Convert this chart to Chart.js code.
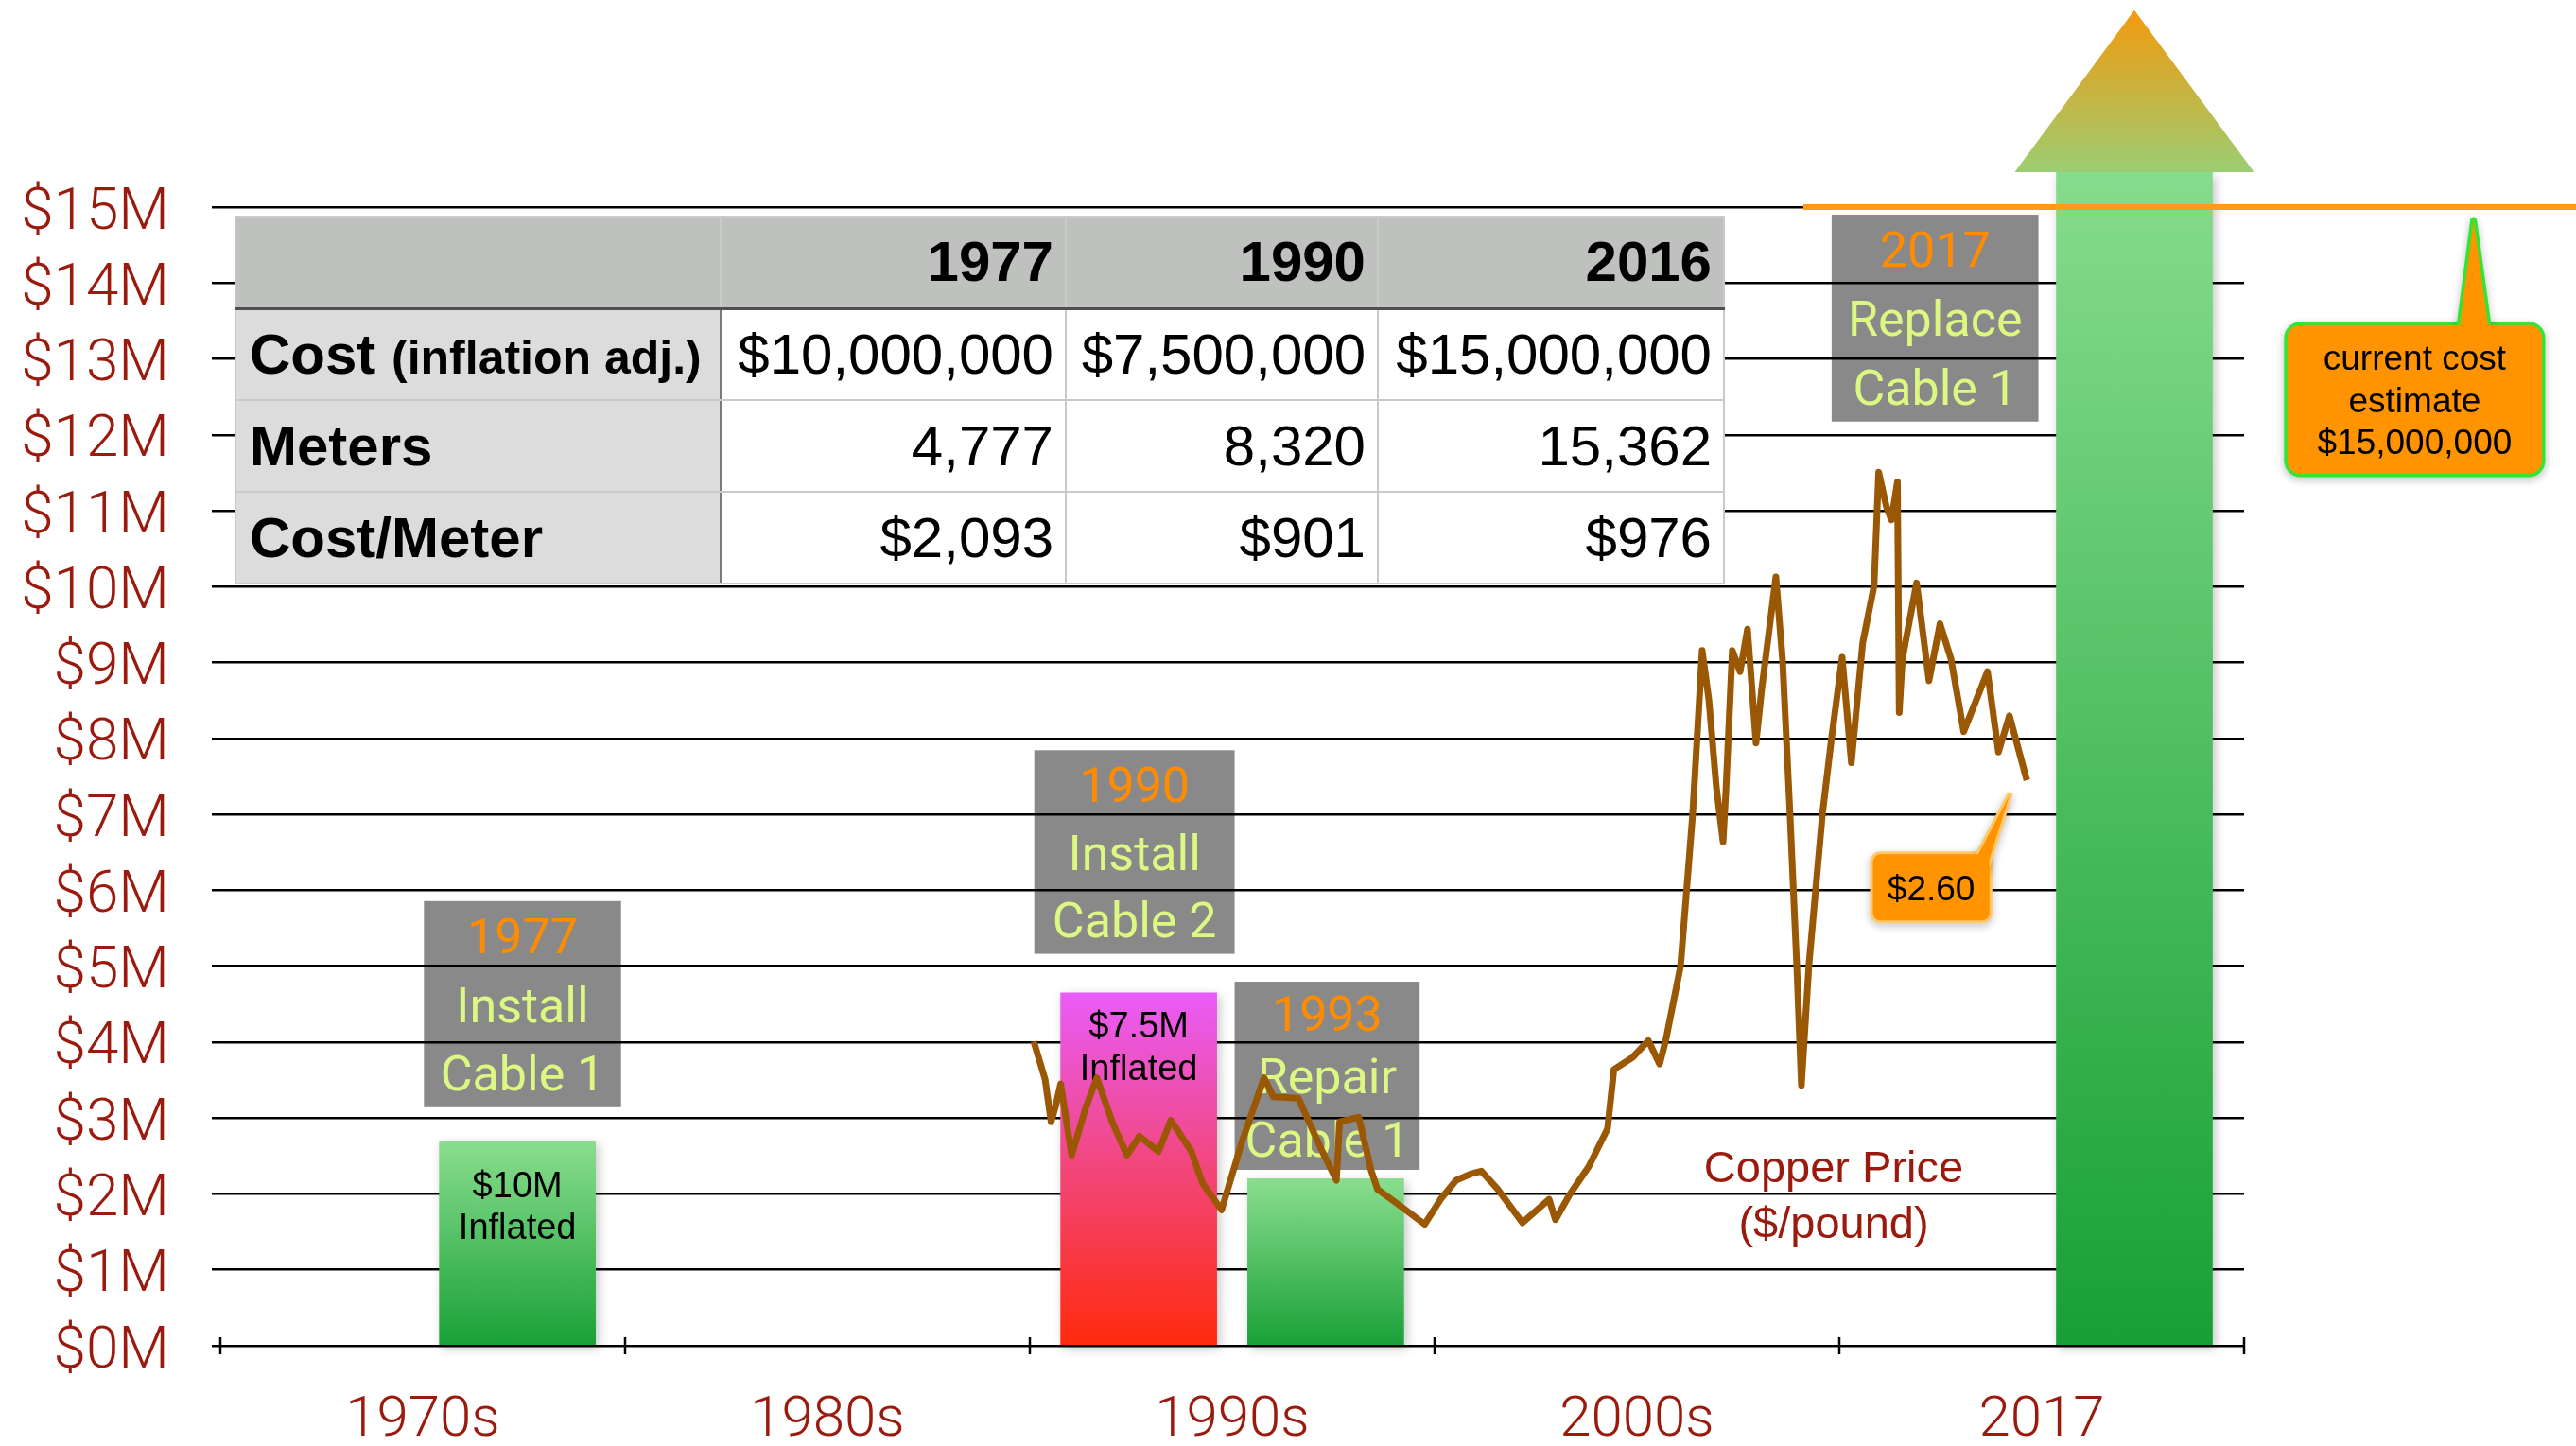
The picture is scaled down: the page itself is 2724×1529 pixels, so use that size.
<!DOCTYPE html>
<html>
<head>
<meta charset="utf-8">
<title>Cable cost vs copper price</title>
<script src="https://cdn.jsdelivr.net/npm/chart.js@4.4.1/dist/chart.umd.min.js"></script>
<style>
  html, body { margin: 0; padding: 0; background: #fff; }
  #wrap { position: relative; width: 2724px; height: 1529px; overflow: hidden; }
  #plotCanvas { position: absolute; left: 0; top: 0; }
  #costTable { position: absolute; left: 248px; top: 228px; width: 1574px; height: 388px;
    border-collapse: collapse; table-layout: fixed; font-family: 'Liberation Sans', Arial, sans-serif;
    font-size: 60px; color: #000; }
  #costTable tr { height: 97px; }
  #costTable td, #costTable th { padding: 0 12px 0 0; text-align: right; border: 2px solid #cacaca;
    background: #fff; font-weight: normal; line-height: 1; white-space: nowrap; vertical-align: middle; }
  #costTable tr.head th { background: #bfc1bf; font-weight: bold; border-bottom: 3px solid #4f4f4f; }
  #costTable td.rowname { background: #dcdcdc; text-align: left; padding: 0 0 0 14px; font-weight: bold;
    border-right: 2px solid #7b7b7b; }
  #costTable .small { font-size: 50px; }
</style>
</head>
<body>
<div id="wrap">
  <canvas id="plotCanvas" width="2724" height="1529"></canvas>
  <table id="costTable"></table>
</div>
<script>
// decade slots along the bottom
const decadeLabels = ['1970s', '1980s', '1990s', '2000s', '2017'];

// project bars: position in slot units (0 = left edge of 1970s) and height in $M
const barSlot = [0.734, 2.269, 2.731, 4.729];
const barCost = [2.7, 4.65, 2.2, 15.46];
const barNotes = [['$10M', 'Inflated'], ['$7.5M', 'Inflated'], [], []];

// copper price trace, plotted on the $M scale
const copperYear = [1987.95, 1988.27, 1988.44, 1988.58, 1988.71, 1989.02, 1989.42, 1989.73, 1990.18, 1990.58,
  1990.93, 1991.47, 1991.82, 1992.40, 1992.71, 1993.25, 1993.82, 1994.45, 1994.71, 1995.42,
  1996.05, 1996.49, 1996.58, 1997.12, 1997.47, 1997.65, 1998.27, 1998.98, 1999.43, 1999.87,
  2000.32, 2000.58, 2001.03, 2001.74, 2002.49, 2002.67, 2003.07, 2003.61, 2004.14, 2004.32,
  2004.85, 2005.29, 2005.61, 2005.79, 2006.20, 2006.54, 2006.81, 2007.00, 2007.21, 2007.40,
  2007.48, 2007.66, 2007.88, 2008.09, 2008.33, 2008.49, 2008.89, 2009.08, 2009.29, 2009.48,
  2009.61, 2009.82, 2010.20, 2010.46, 2010.76, 2011.02, 2011.34, 2011.66, 2011.79, 2012.01,
  2012.15, 2012.32, 2012.37, 2012.46, 2012.86, 2013.21, 2013.52, 2013.83, 2014.19, 2014.86,
  2015.17, 2015.48, 2015.97];
const copperLevel = [4.01, 3.51, 2.95, 3.18, 3.45, 2.51, 3.14, 3.53, 2.93, 2.51,
  2.76, 2.56, 2.97, 2.56, 2.14, 1.79, 2.68, 3.53, 3.28, 3.26,
  2.60, 2.18, 2.95, 3.01, 2.31, 2.06, 1.85, 1.60, 1.93, 2.18,
  2.27, 2.30, 2.07, 1.62, 1.93, 1.66, 1.99, 2.36, 2.86, 3.64,
  3.80, 4.02, 3.71, 4.04, 5.00, 6.99, 9.16, 8.51, 7.36, 6.64,
  7.31, 9.16, 8.88, 9.44, 7.94, 8.65, 10.13, 9.02, 6.99, 5.00,
  3.43, 5.00, 6.99, 8.00, 9.07, 7.68, 9.26, 10.01, 11.51, 11.05,
  10.88, 11.38, 8.34, 9.05, 10.05, 8.76, 9.51, 9.05, 8.09, 8.88,
  7.82, 8.30, 7.45];

// cost table
const tableYears = [1977, 1990, 2016];
const tableCost = [10000000, 7500000, 15000000];
const tableMeters = [4777, 8320, 15362];
const tableCostPerMeter = [2093, 901, 976];

const eventText = [['1977', 'Install', 'Cable 1'], ['1990', 'Install', 'Cable 2'],
  ['1993', 'Repair', 'Cable 1'], ['2017', 'Replace', 'Cable 1']];

// ---- layout of the annotations (slot units / $M) ----
const eventBoxes = [
  { x0: 0.503, x1: 0.990, top: 5.858, bottom: 3.142 },
  { x0: 2.011, x1: 2.506, top: 7.845, bottom: 5.163 },
  { x0: 2.506, x1: 2.963, top: 4.796, bottom: 2.317 },
  { x0: 3.981, x1: 4.492, top: 14.90, bottom: 12.175 }
];
const barNoteY = [[2.13, 1.58], [4.236, 3.675]];
const barColors = [
  ['#8ade8e', '#19a038'],
  ['#e95cf8', '#f2467a', '#ff2a0c'],
  ['#8ade8e', '#19a038'],
  ['#86dc8c', '#17a036']
];
const callouts = [
  { lines: ['current cost', 'estimate', '$15,000,000'], x0: 5.107, x1: 5.736, top: 13.447, bottom: 11.486,
    tail: [[5.532, 13.40], [5.567, 14.826], [5.604, 13.40]], fill: '#ff9400', edge: '#33e433',
    edgeWidth: 3.5, radius: 14, gap: 44.6 },
  { lines: ['$2.60'], x0: 4.083, x1: 4.371, top: 6.474, bottom: 5.602,
    tail: [[4.340, 6.44], [4.4206, 7.254], [4.365, 6.307]], fill: '#ff9400', edge: '#ffc766',
    edgeWidth: 3, radius: 8, gap: 0 }
];
const axisRed = '#9b1a0e';
const grouped = n => String(n).replace(/\B(?=(\d{3})+(?!\d))/g, ',');

function buildTable() {
  const rows = [
    ['Cost <span class="small">(inflation adj.)</span>', tableCost.map(v => '$' + grouped(v))],
    ['Meters', tableMeters.map(grouped)],
    ['Cost/Meter', tableCostPerMeter.map(v => '$' + grouped(v))]
  ];
  let html = '<colgroup><col style="width:513px"><col style="width:365px"><col style="width:330px"><col style="width:366px"></colgroup>';
  html += '<tr class="head"><th></th>' + tableYears.map(y => `<th>${y}</th>`).join('') + '</tr>';
  rows.forEach(r => {
    html += `<tr><td class="rowname">${r[0]}</td>` + r[1].map(v => `<td>${v}</td>`).join('') + '</tr>';
  });
  document.getElementById('costTable').innerHTML = html;
}

// text centred on its cap height
function centredText(ctx, text, x, cy, size) {
  ctx.textBaseline = 'alphabetic';
  ctx.fillText(text, x, cy + size * 0.36);
}

function barFill(c) {
  const stops = barColors[c.dataIndex] || barColors[0];
  const y = c.chart.scales.y;
  if (c.type !== 'data' || !c.chart.chartArea || !y) return stops[stops.length - 1];
  const top = y.getPixelForValue(barCost[c.dataIndex]);
  const bottom = y.getPixelForValue(0);
  if (!isFinite(top) || !isFinite(bottom) || top === bottom) return stops[stops.length - 1];
  const g = c.chart.ctx.createLinearGradient(0, top, 0, bottom);
  stops.forEach((col, k) => g.addColorStop(k / (stops.length - 1), col));
  return g;
}

function drawCallout(ctx, c, xb, y) {
  const l = xb.getPixelForValue(c.x0), r = xb.getPixelForValue(c.x1);
  const t = y.getPixelForValue(c.top), b = y.getPixelForValue(c.bottom);
  const tail = c.tail.map(p => [xb.getPixelForValue(p[0]), y.getPixelForValue(p[1])]);
  const boxPath = () => { ctx.beginPath(); ctx.roundRect(l, t, r - l, b - t, c.radius); };
  const tailPath = () => {
    ctx.beginPath(); ctx.moveTo(tail[0][0], tail[0][1]);
    ctx.lineTo(tail[1][0], tail[1][1]); ctx.lineTo(tail[2][0], tail[2][1]); ctx.closePath();
  };
  ctx.save();
  ctx.strokeStyle = c.edge; ctx.lineWidth = c.edgeWidth * 2; ctx.lineJoin = 'round';
  ctx.shadowColor = 'rgba(0,0,0,0.28)'; ctx.shadowBlur = 8; ctx.shadowOffsetY = 3;
  boxPath(); ctx.stroke(); tailPath(); ctx.stroke();
  ctx.shadowColor = 'transparent';
  ctx.fillStyle = c.fill;
  boxPath(); ctx.fill(); tailPath(); ctx.fill();
  ctx.fillStyle = '#000';
  ctx.font = '37px "Liberation Sans", Arial, sans-serif';
  ctx.textAlign = 'center';
  const cy = (t + b) / 2, n = c.lines.length;
  c.lines.forEach((s, k) => centredText(ctx, s, (l + r) / 2, cy + (k - (n - 1) / 2) * c.gap, 37));
  ctx.restore();
}

const overlay = {
  id: 'overlay',
  beforeDatasetsDraw(chart) {
    const { ctx, scales: { xb, y } } = chart;
    ctx.save();
    ctx.font = '400 52px Roboto, "Liberation Sans", sans-serif';
    ctx.textAlign = 'center';
    eventBoxes.forEach((bx, i) => {
      const l = xb.getPixelForValue(bx.x0), r = xb.getPixelForValue(bx.x1);
      const t = y.getPixelForValue(bx.top), b = y.getPixelForValue(bx.bottom);
      ctx.fillStyle = 'rgba(0,0,0,0.463)';
      ctx.fillRect(l, t, r - l, b - t);
      const h = (b - t) / 3;
      eventText[i].forEach((s, k) => {
        ctx.fillStyle = k === 0 ? '#ff8c00' : '#dcf882';
        centredText(ctx, s, (l + r) / 2, t + h * (k + 0.5), 52);
      });
    });
    ctx.restore();
  },
  beforeDatasetDraw(chart, args) {
    if (args.meta.type !== 'bar') return;
    // soft drop shadow under the bars
    const ctx = chart.ctx;
    ctx.save();
    ctx.shadowColor = 'rgba(0,0,0,0.22)';
    ctx.shadowBlur = 10; ctx.shadowOffsetX = 3; ctx.shadowOffsetY = 4;
  },
  afterDatasetDraw(chart, args) {
    if (args.meta.type !== 'bar') return;
    const { ctx, scales: { y } } = chart;
    ctx.restore();
    ctx.save();
    // arrow head on top of the 2017 bar
    const big = args.meta.data[3].getProps(['x', 'y', 'width'], true);
    const hw = big.width * 0.767, hh = big.width * 1.038;
    const g = ctx.createLinearGradient(0, big.y - hh, 0, big.y);
    g.addColorStop(0, '#f39a0e');
    g.addColorStop(1, '#9ccd72');
    ctx.fillStyle = g;
    ctx.beginPath();
    ctx.moveTo(big.x - hw, big.y); ctx.lineTo(big.x, big.y - hh); ctx.lineTo(big.x + hw, big.y);
    ctx.closePath(); ctx.fill();
    // notes inside the bars
    ctx.fillStyle = '#000';
    ctx.font = '38px "Liberation Sans", Arial, sans-serif';
    ctx.textAlign = 'center';
    barNotes.forEach((lines, i) => {
      const bx = args.meta.data[i].x;
      lines.forEach((s, k) => centredText(ctx, s, bx, y.getPixelForValue(barNoteY[i][k]), 38));
    });
    ctx.restore();
  },
  afterDraw(chart) {
    const { ctx, scales: { xb, y } } = chart;
    const y0 = y.getPixelForValue(0);
    ctx.save();
    // tick marks on the slot boundaries
    ctx.strokeStyle = '#000'; ctx.lineWidth = 2.5;
    for (let i = 0; i <= decadeLabels.length; i++) {
      const px = xb.getPixelForValue(i);
      ctx.beginPath(); ctx.moveTo(px, y0 - 9); ctx.lineTo(px, y0 + 9); ctx.stroke();
    }
    // current estimate line at $15M
    const y15 = y.getPixelForValue(15);
    ctx.strokeStyle = '#ff9a1a'; ctx.lineWidth = 6;
    ctx.beginPath(); ctx.moveTo(xb.getPixelForValue(3.911), y15); ctx.lineTo(chart.width, y15); ctx.stroke();
    // copper series label
    ctx.fillStyle = axisRed;
    ctx.font = '47px "Liberation Sans", Arial, sans-serif';
    ctx.textAlign = 'center';
    const lx = xb.getPixelForValue(3.986);
    centredText(ctx, 'Copper Price', lx, y.getPixelForValue(2.367), 47);
    centredText(ctx, '($/pound)', lx, y.getPixelForValue(1.632), 47);
    ctx.restore();
    callouts.forEach(c => drawCallout(ctx, c, xb, y));
  }
};

let chart;

document.addEventListener('DOMContentLoaded', () => {
  buildTable();
  initChart();
});

function initChart() {
  Chart.defaults.font.family = '"Liberation Sans", Arial, sans-serif';
  const ctx = document.getElementById('plotCanvas').getContext('2d');
  chart = new Chart(ctx, {
    type: 'bar',
    data: {
      labels: decadeLabels,
      datasets: [
        {
          type: 'line', label: 'Copper Price ($/pound)', xAxisID: 'xYear', yAxisID: 'y',
          data: copperYear.map((x, i) => ({ x, y: copperLevel[i] })),
          borderColor: '#9b5804', borderWidth: 7, pointRadius: 0, tension: 0, fill: false,
          borderJoinStyle: 'round', order: 1
        },
        {
          type: 'bar', label: 'Cable cost', xAxisID: 'xb', yAxisID: 'y',
          data: barSlot.map((x, i) => ({ x, y: barCost[i] })),
          backgroundColor: barFill, borderWidth: 0, grouped: false,
          barThickness: 165, clip: false, order: 2
        }
      ]
    },
    options: {
      responsive: false, animation: false, devicePixelRatio: 1,
      layout: { padding: { top: 219, right: 351, bottom: 0, left: 0 } },
      plugins: { legend: { display: false }, tooltip: { enabled: false } },
      scales: {
        x: {
          type: 'category', position: 'bottom', offset: true,
          grid: { display: false }, border: { display: false },
          ticks: { color: axisRed, font: { family: 'Roboto', weight: '300', size: 60 },
                   padding: 36, maxRotation: 0, autoSkip: false },
          afterFit: s => { s.height = 106; }
        },
        xb: { type: 'linear', display: false, min: 0, max: 5, offset: false },
        xYear: { type: 'linear', display: false, min: 1965, max: 2022.1, offset: false },
        y: {
          type: 'linear', position: 'left', min: 0, max: 15,
          ticks: { stepSize: 1, callback: v => '$' + v + 'M', color: axisRed, labelOffset: 7,
                   font: { family: 'Roboto', weight: '300', size: 62 }, padding: 45 },
          grid: { color: '#000', lineWidth: 2.5, tickLength: 9, drawTicks: true },
          border: { display: false },
          afterFit: s => { s.width = 233; }
        }
      }
    },
    plugins: [overlay]
  });
}
</script>
</body>
</html>
